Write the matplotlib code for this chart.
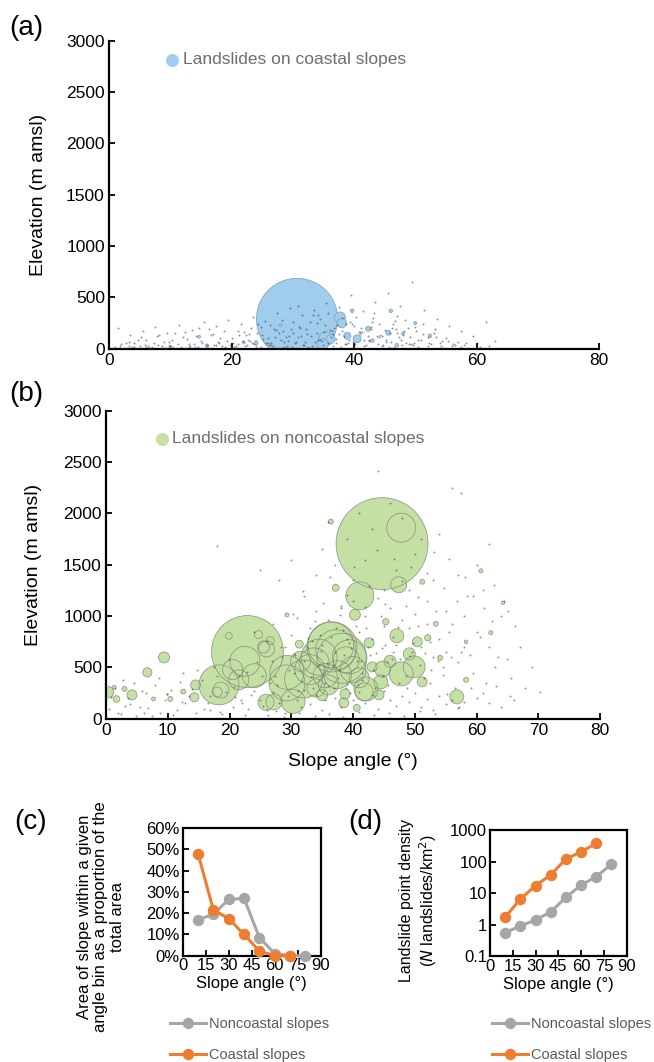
import matplotlib
matplotlib.use("Agg")
import matplotlib.pyplot as plt
from matplotlib.ticker import FuncFormatter, FixedLocator

plt.rcParams['font.family'] = ['Liberation Sans', 'DejaVu Sans']

# ---------------- data ----------------
# (a) landslides on coastal slopes: slope angle (deg), elevation (m), relative area
coastal_slope = [30.7, 37.7, 38.0, 35.4, 34.9, 38.9, 40.5, 42.3, 45.6, 46.0, 52.4, 39.7,
                 16.0, 24.0, 14.7, 47.0, 28.0, 50.0, 43.0, 48.0, 22.0, 10.0, 36.2]
coastal_elev = [290, 305, 250, 97, 45, 127, 97, 195, 156, 370, 127, 370,
                29, 58, 117, 35, 230, 250, 80, 150, 60, 20, 95]
coastal_area = [1650, 30, 22, 50, 30, 12, 16, 6, 6, 3, 3, 3,
                3, 4, 2, 3, 2, 2, 3, 2, 2, 2, 20]

# (a) all mapped landslide points on coastal slopes (grey dots)
dots_a_x = [1, 2, 3, 4, 5, 6, 7, 8, 9, 10, 11, 12, 13, 14, 15, 16, 17, 18, 19, 20,
            21, 22, 23, 24, 25, 26, 27, 28, 29, 30, 31, 32, 33, 34, 35, 36, 37, 38, 39, 40,
            41, 42, 43, 44, 45, 46, 47, 48, 49, 50, 51, 52, 53, 54, 55, 56, 57, 58, 60, 62,
            1.5, 3.5, 5.5, 7.5, 9.5, 11.5, 13.5, 15.5, 17.5, 19.5, 21.5, 23.5, 25.5, 27.5, 29.5, 31.5,
            33.5, 35.5, 37.5, 39.5, 41.5, 43.5, 45.5, 47.5, 49.5, 51.5, 53.5, 55.5, 57.5, 59.5, 61.5, 63,
            2.5, 4.5, 6.5, 8.5, 10.5, 12.5, 14.5, 16.5, 18.5, 20.5, 22.5, 24.5, 26.5, 28.5, 30.5,
            32.5, 34.5, 36.5, 38.5, 40.5, 42.5, 44.5, 46.5, 48.5, 50.5, 52.5, 54.5, 56.5, 58.5, 60.5,
            20.2, 21.3, 22.7, 23.1, 24.2, 25.6, 26.3, 27.1, 28.4, 29.2, 30.1, 31.3, 32.2, 33.6, 34.4,
            35.1, 36.2, 37.3, 38.1, 39.2, 40.3, 41.1, 42.3, 43.2, 44.1, 45.3, 46.2, 47.1, 48.3, 49.1,
            50.2, 51.3, 52.1, 53.2, 54.3,
            33.2, 35.8, 37.9, 39.8, 41.7, 43.9, 45.7, 47.8, 36.6, 40.9, 44.6, 31.8, 29.9, 27.8, 26.1,
            24.8, 22.2, 19.1, 17.2, 13.1, 9.2, 6.1, 3.2, 42.8, 46.8, 49.8, 34.1, 38.7, 30.9, 28.9,
            3.3, 4.1, 5.2, 6.4, 7.3, 8.2, 9.1, 10.3, 11.2, 12.4, 13.3, 14.2, 15.1, 16.3, 17.4, 18.2,
            19.3, 20.4, 21.1, 22.3, 23.4, 24.3, 25.2, 26.4, 27.3, 28.2, 29.4, 30.3, 31.2, 32.4, 33.3,
            34.2, 35.3, 36.4, 37.1, 38.3, 39.4, 40.2, 41.3, 42.4, 43.1, 44.3, 45.2, 46.3, 47.4, 48.2,
            49.3, 50.4, 51.2, 52.3, 53.4, 54.2, 55.3, 56.2, 57.4, 58.3,
            20.7, 21.8, 22.9, 23.6, 24.8, 25.9, 26.7, 27.8, 28.6, 29.7, 30.8, 31.7, 32.8, 33.9, 34.7,
            35.7, 36.8, 37.6, 38.7, 39.7, 40.8, 41.6, 42.7, 43.8, 44.7, 45.8, 46.7, 47.7, 48.8, 49.6,
            0.7, 1.8, 2.7, 3.8, 4.7, 5.8, 6.7, 7.8, 8.7, 9.8, 10.7, 11.8, 12.7, 13.8, 14.7, 15.8,
            16.7, 17.8, 18.7, 19.8]
dots_a_y = [20, 45, 10, 60, 25, 90, 15, 40, 70, 30, 5, 110, 50, 20, 80, 35, 140, 60, 15, 100,
            45, 160, 75, 25, 130, 55, 190, 85, 30, 150, 210, 65, 120, 250, 40, 180, 95, 300, 60, 220,
            140, 35, 260, 110, 180, 70, 320, 130, 50, 210, 90, 30, 150, 60, 100, 25, 70, 40, 55, 30,
            200, 130, 170, 210, 150, 230, 180, 260, 220, 280, 240, 310, 270, 350, 400, 330,
            380, 450, 410, 520, 370, 460, 540, 420, 650, 380, 290, 220, 170, 120, 260, 80,
            5, 8, 12, 3, 18, 6, 22, 9, 30, 12, 40, 8, 55, 20, 70,
            15, 90, 25, 45, 10, 80, 30, 15, 60, 20, 45, 12, 35, 8, 20,
            60, 130, 90, 200, 150, 60, 230, 110, 170, 80, 260, 120, 190, 70, 290,
            160, 110, 230, 170, 90, 310, 200, 120, 350, 240, 90, 200, 150, 280, 110,
            170, 240, 110, 190, 80,
            30, 55, 20, 65, 25, 45, 15, 35, 140, 160, 120, 40, 20, 10, 35,
            18, 28, 12, 40, 22, 8, 14, 30, 210, 190, 60, 330, 240, 420, 110,
            70, 15, 110, 30, 55, 130, 10, 85, 45, 160, 25, 120, 60, 190, 40, 100,
            75, 20, 170, 130, 55, 240, 95, 35, 180, 280, 120, 60, 200, 140, 330,
            85, 230, 170, 60, 120, 260, 45, 160, 90, 300, 130, 65, 240, 110, 170,
            50, 90, 140, 60, 110, 30, 75, 45, 20, 60,
            25, 80, 140, 45, 210, 100, 30, 150, 65, 190, 110, 40, 260, 150, 75,
            350, 200, 140, 50, 240, 165, 85, 190, 120, 35, 150, 270, 90, 200, 40,
            8, 30, 60, 18, 90, 40, 5, 120, 28, 70, 150, 15, 95, 45, 200, 8,
            130, 65, 170, 40]

# (b) landslides on noncoastal slopes: slope angle (deg), elevation (m), relative area
noncoastal_slope = [44.7, 47.8, 47.4, 41.1, 40.3, 22.9, 18.3, 29.3, 36.6, 27.2, 33.7, 38.9,
                    47.1, 45.3, 53.4, 52.1, 56.8, 60.7, 64.3, 62.3, 58.3, 51.2, 49.9, 47.8,
                    41.8, 44.5, 44.2, 39.4, 37.2, 43.1, 49.1, 50.4, 42.6, 51.2, 38.5, 40.6,
                    37.2, 36.4, 58.3, 54.1, 9.4, 6.7, 0.3, 4.2, 14.5, 14.3, 1.7, 3.0, 1.3,
                    10.4, 12.5, 7.7, 25.9, 30.3, 32.0, 29.3, 44.8, 42.1, 38.7, 31.3, 29.3,
                    36.4, 38.2, 34.5, 33.0, 40.0, 35.5, 37.5, 36.0, 34.0, 41.0, 31.5,
                    22.5, 26.0, 20.5, 24.7, 19.9, 25.5, 26.6, 18.6, 18.0, 24.0, 21.5, 46.0, 35.0]
noncoastal_elev = [1705, 1860, 1305, 1198, 1013, 655, 331, 350, 700, 165, 545, 575,
                   808, 945, 925, 789, 214, 1441, 1130, 838, 750, 360, 506, 438,
                   263, 360, 234, 604, 672, 506, 633, 750, 740, 1334, 156, 107,
                   1276, 1919, 380, 594, 598, 453, 259, 233, 330, 210, 194, 291, 307,
                   194, 265, 194, 162, 170, 388, 453, 485, 291, 242, 727, 1012,
                   720, 590, 600, 480, 480, 420, 430, 330, 300, 400, 560,
                   560, 680, 480, 820, 808, 700, 760, 280, 260, 420, 380, 560, 230]
noncoastal_area = [2116, 210, 64, 196, 30, 1296, 400, 324, 625, 64, 225, 169,
                   49, 10, 6, 10, 49, 4, 3, 4, 3, 25, 121, 144,
                   81, 49, 25, 289, 400, 25, 36, 25, 25, 6, 25, 12,
                   12, 6, 6, 6, 30, 21, 34, 25, 25, 21, 11, 6, 4,
                   6, 6, 4, 64, 144, 361, 289, 64, 144, 25, 16, 4,
                   529, 625, 324, 225, 169, 144, 196, 100, 81, 100, 100,
                   225, 64, 100, 16, 11, 36, 16, 64, 25, 144, 100, 36, 30]

# (b) all mapped landslide points on noncoastal slopes (grey dots)
dots_b_x = [0.5, 1.5, 2.5, 3.5, 4.5, 5.5, 6.5, 7.5, 8.5, 9.5, 10.5, 11.5, 12.5, 13.5, 14.5, 15.5,
            16.5, 17.5, 18.5, 19.5, 20.5, 21.5, 22.5, 23.5, 24.5, 25.5, 26.5, 27.5, 28.5, 29.5, 30.5,
            31.5, 32.5, 33.5, 34.5, 35.5, 36.5, 37.5, 38.5, 39.5, 40.5, 41.5, 42.5, 43.5, 44.5, 45.5,
            46.5, 47.5, 48.5, 49.5, 50.5, 51.5, 52.5, 53.5, 54.5, 55.5, 56.5, 57.5, 58.5, 59.5, 60.5,
            61.5, 62.5, 63.5, 64.5, 65.5, 67, 69,
            18, 25, 28, 30, 32, 34, 35, 36, 37, 38, 39, 40, 41, 42, 43, 44, 45, 46, 47, 48, 49, 50,
            51, 52, 53, 54, 55, 56, 57, 58, 60, 61, 62, 57.5,
            24, 26, 27, 29, 30, 31, 32, 33, 34, 35, 36, 37, 38, 39, 40, 41, 42, 43, 44, 45, 46, 47,
            48, 49, 50, 51, 52, 53, 54, 55, 56, 57, 58, 59, 60, 62, 63, 65,
            22, 23, 25, 26, 27, 28, 29, 31, 32, 33, 34, 35, 36, 37, 38, 39, 40, 41, 42, 43, 44, 45,
            46, 47, 48, 49, 50, 51, 52, 53, 54, 55, 56, 57, 58, 60, 62, 64, 66,
            30.6, 33.4, 35.8, 37.7, 39.6, 41.3, 43.7, 45.2, 47.6, 49.3, 34.7, 38.3, 42.1, 46.4,
            27.4, 31.7, 36.9, 40.8, 44.9, 48.8, 52.7, 55.9, 12.3, 16.8, 20.9, 6.2, 3.1, 9.8,
            25.3, 26.8, 27.7, 28.3, 29.6, 30.4, 31.1, 32.7, 33.2, 34.8, 35.4, 36.7, 37.2, 38.8, 39.3,
            40.7, 41.4, 42.8, 43.3, 44.7, 45.6, 46.3, 47.3, 48.6, 49.7, 50.8, 51.6, 52.4, 53.7, 54.6,
            30.2, 31.9, 33.8, 35.2, 36.3, 37.9, 39.1, 40.2, 41.9, 42.6, 43.9, 45.1, 46.7, 47.9,
            49.4, 50.6, 51.9, 53.1, 54.8, 55.6, 56.9, 58.2, 59.4, 61.2, 62.8, 63.9, 65.1, 66.3,
            0.8, 1.9, 2.8, 3.9, 4.8, 5.9, 6.8, 7.9, 8.8, 9.9, 10.8, 11.9, 12.8, 13.9, 14.8, 15.9,
            16.8, 17.9, 18.8, 19.9, 20.8, 21.9, 22.8, 23.9,
            26.2, 28.8, 31.2, 33.9, 36.1, 38.4, 40.9, 43.4, 45.9, 48.2, 50.9, 53.3, 55.2, 57.1,
            59.1, 61.1, 63.2, 65.4, 67.8, 70.2]
dots_b_y = [100, 300, 50, 200, 350, 120, 250, 30, 400, 180, 280, 90, 450, 220, 60, 380,
            150, 500, 70, 260, 120, 420, 40, 230, 550, 130, 350, 80, 600, 220, 450,
            120, 700, 300, 520, 180, 800, 400, 620, 250, 900, 450, 700, 300, 1000, 550,
            800, 350, 1100, 650, 900, 400, 750, 1050, 500, 850, 300, 650, 1200, 450, 800,
            350, 950, 600, 1150, 400, 700, 500,
            1680, 1450, 1350, 1550, 1200, 1400, 1650, 1920, 1500, 1100, 1750, 1350, 2000, 1550,
            1850, 2410, 1250, 2100, 1450, 1950, 1250, 1600, 1750, 1150, 1350, 1800, 1050, 2250,
            1400, 1000, 1500, 1250, 1700, 2200,
            850, 760, 920, 700, 820, 980, 560, 880, 1050, 720, 960, 650, 1080, 780, 1150, 850,
            1000, 780, 1180, 900, 1080, 720, 960, 880, 1020, 700, 920, 600, 780, 650, 920, 550,
            700, 620, 850, 700, 500, 580,
            150, 100, 180, 90, 260, 150, 60, 180, 280, 140, 230, 90, 320, 200, 120, 340, 180, 260,
            150, 230, 100, 270, 180, 130, 220, 160, 250, 120, 190, 90, 220, 140, 180, 110, 160,
            200, 150, 120, 180,
            620, 760, 540, 480, 690, 560, 640, 720, 580, 610, 820, 860, 880, 650,
            420, 370, 300, 330, 420, 300, 480, 600, 160, 90, 210, 60, 130, 240,
            420, 560, 330, 700, 480, 630, 270, 790, 410, 660, 350, 520, 880, 300, 740,
            560, 380, 620, 480, 690, 330, 580, 890, 420, 740, 520, 640, 350, 560, 430,
            1020, 1240, 950, 1130, 1380, 1010, 1210, 1480, 1090, 1290, 1640, 1120, 1560, 1340,
            1480, 1190, 1420, 1620, 1270, 1560, 1150, 1380, 1200, 1080, 1300, 1000, 1050, 900,
            210, 60, 380, 140, 30, 270, 110, 330, 60, 240, 40, 360, 150, 290, 480, 100,
            220, 420, 50, 580, 310, 180, 460, 270,
            40, 20, 60, 30, 50, 20, 70, 40, 60, 30, 80, 50, 240, 120,
            300, 250, 320, 220, 300, 260]

# (c) proportion of area within slope bins (%)
bin_angle = [10, 20, 30, 40, 50, 60, 70, 80]
area_noncoastal = [17, 19.5, 26.5, 27, 8.5, 1.0, 0, 0]
area_coastal = [48, 21.5, 17.5, 10, 2.2, 0, 0]

# (d) landslide point density (N landslides / km2)
dens_noncoastal = [0.55, 0.9, 1.4, 2.5, 7.3, 18, 33, 83]
dens_coastal = [1.7, 6.5, 17, 38, 120, 205, 375]

# ---------------- styling ----------------
BLUE = '#a0cdee'
GREEN = '#c5e0a5'
ORANGE = '#ef7d2f'
GREY = '#a6a6a6'
TXT = '#595959'

def r2s(area):
    # relative area -> marker area in pt^2
    return [a * 2.07 for a in area]

fig = plt.figure(figsize=(6.54, 10.62), dpi=100)

def style_ab(ax, pad):
    for s in ['top', 'right']:
        ax.spines[s].set_visible(False)
    for s in ['left', 'bottom']:
        ax.spines[s].set_linewidth(1.6)
    ax.tick_params(direction='in', length=4, width=1.3, labelsize=12.5, pad=3)
    ax.set_ylim(0, 3000)
    ax.set_yticks(range(0, 3001, 500))
    ax.set_ylabel('Elevation (m amsl)', fontsize=14, labelpad=pad)

# ---- (a)
axa = fig.add_axes([0.1667, 0.6716, 0.7492, 0.2900])
axa.scatter(coastal_slope, coastal_elev, s=r2s(coastal_area), c=BLUE,
            edgecolors='#7fa6c4', linewidths=0.6, zorder=2)
axa.scatter(dots_a_x, dots_a_y, s=2.0, c='#3a3a3a', alpha=0.55, linewidths=0, zorder=3)
axa.set_xlim(0, 80)
axa.set_xticks(range(0, 81, 20))
style_ab(axa, 14)
axa.scatter([0.1286], [0.9377], s=70, c=BLUE, transform=axa.transAxes, clip_on=False)
axa.text(0.151, 0.9377, 'Landslides on coastal slopes', transform=axa.transAxes,
         fontsize=12.5, color='#6e6e6e', va='center', ha='left')

# ---- (b)
axb = fig.add_axes([0.1621, 0.3231, 0.7554, 0.2903])
axb.scatter(noncoastal_slope, noncoastal_elev, s=r2s(noncoastal_area), c=GREEN,
            linewidths=0, zorder=2)
axb.scatter(noncoastal_slope, noncoastal_elev, s=r2s(noncoastal_area), facecolors='none',
            edgecolors='#7d8a74', linewidths=0.55, alpha=0.85, zorder=3)
axb.scatter(dots_b_x, dots_b_y, s=2.0, c='#3a3a3a', alpha=0.55, linewidths=0, zorder=4)
axb.set_xlim(0, 80)
axb.set_xticks(range(0, 81, 10))
style_ab(axb, 15)
axb.set_xlabel('Slope angle (°)', fontsize=14, labelpad=11)
axb.scatter([0.113], [0.908], s=70, c=GREEN, transform=axb.transAxes, clip_on=False)
axb.text(0.134, 0.908, 'Landslides on noncoastal slopes', transform=axb.transAxes,
         fontsize=12.5, color='#6e6e6e', va='center', ha='left')

# ---- (c) and (d)
def style_cd(ax):
    for s in ax.spines.values():
        s.set_linewidth(1.6)
    ax.tick_params(direction='in', length=4, width=1.3, labelsize=12, pad=2)
    ax.tick_params(which='minor', length=0)
    ax.set_xlim(0, 90)
    ax.set_xticks(range(0, 91, 15))
    ax.set_xlabel('Slope angle (°)', fontsize=12, labelpad=2)

lw, ms = 2.2, 7.2
axc = fig.add_axes([0.2794, 0.1001, 0.2110, 0.1200])
axc.plot(bin_angle, area_noncoastal, color=GREY, lw=lw, marker='o', ms=ms, clip_on=False,
         label='Noncoastal slopes', zorder=3)
axc.plot(bin_angle[:len(area_coastal)], area_coastal, color=ORANGE, lw=lw, marker='o', ms=ms,
         clip_on=False, label='Coastal slopes', zorder=4)
axc.set_ylim(0, 60)
axc.set_yticks(range(0, 61, 10))
axc.yaxis.set_major_formatter(FuncFormatter(lambda v, p: f'{v:.0f}%'))
style_cd(axc)

axd = fig.add_axes([0.7492, 0.0998, 0.2090, 0.1186])
axd.plot(bin_angle, dens_noncoastal, color=GREY, lw=lw, marker='o', ms=ms, clip_on=False,
         label='Noncoastal slopes', zorder=3)
axd.plot(bin_angle[:len(dens_coastal)], dens_coastal, color=ORANGE, lw=lw, marker='o', ms=ms,
         clip_on=False, label='Coastal slopes', zorder=4)
axd.set_yscale('log')
axd.set_ylim(0.1, 1000)
axd.yaxis.set_major_locator(FixedLocator([0.1, 1, 10, 100, 1000]))
axd.yaxis.set_major_formatter(FuncFormatter(lambda v, p: f'{v:g}'))
style_cd(axd)

for ax, x0 in [(axc, 170 / 654), (axd, 492 / 654)]:
    ax.legend(loc='upper left', bbox_to_anchor=(x0, 1 - 1017 / 1062), bbox_transform=fig.transFigure,
              frameon=False, fontsize=10.5, labelcolor=TXT, handlelength=2.5, handletextpad=0.15,
              borderpad=0, borderaxespad=0, labelspacing=1.15)

fig.text(101 / 654, 1 - 917 / 1062,
         'Area of slope within a given\nangle bin as a proportion of the\ntotal area',
         rotation=90, ha='center', va='center', fontsize=12, linespacing=1.15)
fig.text(419 / 654, 1 - 901 / 1062,
         'Landslide point density\n($\\it{N}$ landslides/km$^2$)',
         rotation=90, ha='center', va='center', fontsize=11.5, linespacing=1.15)

# panel letters
for lbl, x, y in [('(a)', 9, 28), ('(b)', 9, 394), ('(c)', 14, 822), ('(d)', 348, 822)]:
    fig.text(x / 654, 1 - y / 1062, lbl, fontsize=20, ha='left', va='center')

fig.savefig('out.png', dpi=100)
